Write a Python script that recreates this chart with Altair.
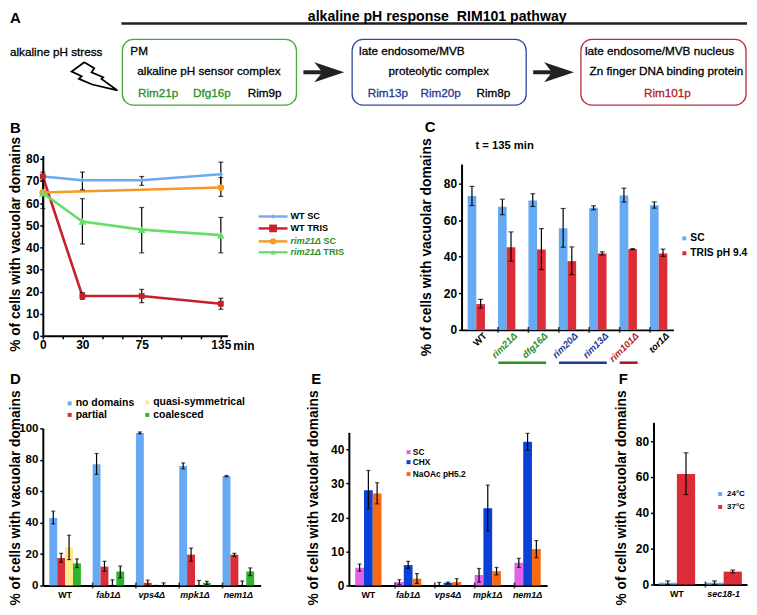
import altair as alt
import pandas as pd

W, H = 741, 599
OX, OY = 8, 8  # page margin
FONT = "Liberation Sans"
BLUE = "#66aaf4"
RED = "#dc2c38"
DELTA = "\u0394"
YTITLE = "% of cells with vacuolar domains"

# ---------- Panel B ----------
b_series = ["WT SC", "WT TRIS", "rim21 SC", "rim21 TRIS"]
b_minutes = {"WT SC": [0, 30, 75, 135], "WT TRIS": [0, 30, 75, 135],
             "rim21 SC": [0, 135], "rim21 TRIS": [0, 30, 75, 135]}
b_values = {"WT SC": [72, 70.3, 70.3, 73], "WT TRIS": [72, 18, 18, 14.5],
            "rim21 SC": [64.8, 67], "rim21 TRIS": [64.5, 51.7, 48, 45.5]}
b_lo = {"WT SC": [72, 66, 68, 67.5], "WT TRIS": [70, 16.5, 15, 12],
        "rim21 SC": [64.8, 63], "rim21 TRIS": [57.5, 41.5, 37.5, 37.5]}
b_hi = {"WT SC": [72, 74, 72, 78.5], "WT TRIS": [74, 19.5, 21, 17],
        "rim21 SC": [64.8, 71.5], "rim21 TRIS": [71.5, 62, 58, 53.5]}
b_colors = ["#6faaf0", "#c5202c", "#f59a26", "#68de68"]
b_shapes = ["diamond", "square", "circle", "triangle-up"]
b_sizes = [22, 60, 40, 28]

# ---------- Panel C ----------
c_cats = ["WT", "rim21" + DELTA, "dfg16" + DELTA, "rim20" + DELTA,
          "rim13" + DELTA, "rim101" + DELTA, "tor1" + DELTA]
c_series = ["SC", "TRIS pH 9.4"]
c_values = [[73.3, 67.3, 70.8, 55.6, 66.8, 73.5, 68.2],
            [14.1, 45.2, 44, 37.6, 41.8, 44.2, 41.8]]
c_lo = [[68, 63, 67.5, 45.2, 65.7, 69.9, 66.6],
        [11.9, 37.5, 33, 30.2, 40.9, 43.9, 40.2]]
c_hi = [[78.5, 71.5, 74.5, 66.4, 67.9, 77.5, 70],
        [16.7, 53.6, 55.4, 45.4, 42.7, 44.5, 44.2]]
c_colors = [BLUE, RED]

# ---------- Panel D ----------
d_cats = ["WT", "fab1" + DELTA, "vps4" + DELTA, "mpk1" + DELTA, "nem1" + DELTA]
d_series = ["no domains", "partial", "quasi-symmetrical", "coalesced"]
d_values = [[43, 77.2, 97, 76, 69.6], [17.5, 12, 1.7, 19.6, 19.6],
            [24.3, 0, 0, 0, 0], [14.1, 8.9, 0, 1.7, 9]]
d_lo = [[39.2, 70.7, 96.6, 74.3, 69.2], [14.8, 9, 0, 15.4, 18.6],
        [16.5, 0, 0, 0, 0], [11.4, 4.9, 0, 0.6, 6.3]]
d_hi = [[47.3, 84, 97.7, 78, 70], [20.5, 15.4, 3.4, 23.8, 20.5],
        [32, 3.6, 0, 3.2, 2.9], [16.9, 12.4, 1.7, 2.7, 11.2]]
d_colors = [BLUE, RED, "#fdea8c", "#30b430"]

# ---------- Panel E ----------
e_cats = d_cats
e_series = ["SC", "CHX", "NaOAc pH5.2"]
e_values = [[5.2, 1, 0, 3.1, 6.7], [28, 6, 0.8, 22.7, 42.2], [27, 2, 1, 4.2, 10.7]]
e_lo = [[4.2, 0.3, 0, 1, 5.3], [22.6, 5, 0.5, 16, 39.7], [24, 0.6, 0, 3.1, 8.2]]
e_hi = [[6.3, 1.7, 0.9, 5, 8], [33.8, 7.1, 1, 29.5, 44.7], [30.2, 3.5, 2, 5.3, 13.2]]
e_colors = ["#e063e8", "#0b40d8", "#f56a12"]

# ---------- Panel F ----------
f_cats = ["WT", "sec18-1"]
f_series = ["24\u00b0C", "37\u00b0C"]
f_values = [[1, 1], [61.7, 7.2]]
f_lo = [[0, 0], [50.2, 6.5]]
f_hi = [[2, 2], [73.5, 8.1]]
f_colors = [BLUE, RED]

ITALIC_NOT_WT = "datum.value == 'WT' ? 'normal' : 'italic'"


def xaxis_offset(y0):
    return -(H - (y0 - OY))


def bar_panel(cats, series, values, lo, hi, colors, x0, x1, y_top_val, y0, ytop,
              yticks, pad_inner, pad_outer, cap, label_size, x_axis_extra=None, y_label_size=12):
    rows = []
    for s, vv, ll, hh in zip(series, values, lo, hi):
        for c, v, l, h in zip(cats, vv, ll, hh):
            rows.append({"cat": c, "series": s, "v": v, "lo": l, "hi": h})
    df = pd.DataFrame(rows)
    xscale = alt.Scale(domain=cats, range=[x0 - OX, x1 - OX],
                       paddingInner=pad_inner, paddingOuter=pad_outer)
    yscale = alt.Scale(domain=[0, y_top_val], range=[y0 - OY, ytop - OY], nice=False, zero=False)
    axis_opts = dict(title=None, orient="bottom", offset=xaxis_offset(y0), ticks=False,
                     domainWidth=2, domainColor="black", labelFont=FONT, labelFontWeight="bold",
                     labelFontSize=label_size, labelColor="black", labelFontStyle=alt.expr(ITALIC_NOT_WT),
                     labelAngle=0, labelPadding=5, grid=False)
    if x_axis_extra:
        axis_opts.update(x_axis_extra)
    x = alt.X("cat:N", scale=xscale, axis=alt.Axis(**axis_opts))
    x_plain = alt.X("cat:N", scale=xscale, axis=None)
    xo = alt.XOffset("series:N", scale=alt.Scale(domain=series))
    y = alt.Y("v:Q", scale=yscale,
              axis=alt.Axis(title=None, orient="left", offset=-(x0 - OX), values=yticks, domainWidth=2,
                            domainColor="black", tickColor="black", tickWidth=1.5, tickSize=3,
                            labelFont=FONT, labelFontWeight="bold", labelFontSize=y_label_size, labelColor="black",
                            labelPadding=2, grid=False))
    color = alt.Color("series:N", scale=alt.Scale(domain=series, range=colors), legend=None)
    base = alt.Chart(df)
    bars = base.mark_bar(clip=False).encode(x=x, xOffset=xo, y=y, color=color)
    err = base.mark_rule(color="black", strokeWidth=1.2).encode(
        x=x_plain, xOffset=xo,
        y=alt.Y("lo:Q", scale=yscale, axis=None), y2="hi:Q")
    cap_lo = base.mark_tick(color="black", size=cap, thickness=1.2, orient="horizontal").encode(
        x=x_plain, xOffset=xo, y=alt.Y("lo:Q", scale=yscale, axis=None))
    cap_hi = base.mark_tick(color="black", size=cap, thickness=1.2, orient="horizontal").encode(
        x=x_plain, xOffset=xo, y=alt.Y("hi:Q", scale=yscale, axis=None))
    bound = alt.Chart(pd.DataFrame({"cat": cats[1:]})).mark_tick(
        color="black", size=6, thickness=1.6, orient="vertical").encode(
        x=alt.X("cat:N", scale=xscale, axis=None, bandPosition=0),
        y=alt.Y(datum=0, scale=yscale, axis=None))
    return [bars, err, cap_lo, cap_hi, bound]


# ---------- line panel B ----------
b_rows = []
for s in b_series:
    for m, v, l, h in zip(b_minutes[s], b_values[s], b_lo[s], b_hi[s]):
        b_rows.append({"series": s, "min": m, "v": v, "lo": l, "hi": h})
b_df = pd.DataFrame(b_rows)
bx = alt.Scale(domain=[0, 140], range=[41 - OX, 226.6 - OX], nice=False)
by = alt.Scale(domain=[0, 81.5], range=[335 - OY, 335 - OY - 81.5 * 2.225], nice=False, zero=False)
bcolor = alt.Color("series:N", scale=alt.Scale(domain=b_series, range=b_colors), legend=None)
bbase = alt.Chart(b_df)
b_x = alt.X("min:Q", scale=bx,
            axis=alt.Axis(title=None, orient="bottom", offset=xaxis_offset(335), grid=False,
                          values=[0, 15, 30, 45, 60, 75, 90, 105, 120, 135],
                          labelExpr="indexof([0,30,75,135], datum.value) >= 0 ? datum.label : ''",
                          domainWidth=2, domainColor="black", tickColor="black", tickWidth=1.5, tickSize=3,
                          labelFont=FONT, labelFontWeight="bold", labelFontSize=12, labelColor="black",
                          labelAngle=0, labelPadding=1, labelOverlap=False, labelFlush=False))
b_x_plain = alt.X("min:Q", scale=bx, axis=None)
b_y = alt.Y("v:Q", scale=by,
            axis=alt.Axis(title=None, orient="left", offset=-(41 - OX), grid=False,
                          values=[0, 10, 20, 30, 40, 50, 60, 70, 80],
                          domainWidth=2, domainColor="black", tickColor="black", tickWidth=1.5, tickSize=3,
                          labelFont=FONT, labelFontWeight="bold", labelFontSize=12, labelColor="black",
                          labelPadding=1))
b_err = bbase.mark_rule(color="black", strokeWidth=1.2).encode(
    x=b_x_plain, y=alt.Y("lo:Q", scale=by, axis=None), y2="hi:Q")
b_cap1 = bbase.mark_tick(color="black", size=5, thickness=1.2, orient="horizontal").encode(
    x=b_x_plain, y=alt.Y("lo:Q", scale=by, axis=None))
b_cap2 = bbase.mark_tick(color="black", size=5, thickness=1.2, orient="horizontal").encode(
    x=b_x_plain, y=alt.Y("hi:Q", scale=by, axis=None))
b_line = bbase.mark_line(strokeWidth=2.6, clip=False).encode(x=b_x, y=b_y, color=bcolor,
                                                             order="min:Q")
b_pts = bbase.mark_point(filled=True, opacity=1).encode(
    x=b_x_plain, y=alt.Y("v:Q", scale=by, axis=None), color=bcolor,
    shape=alt.Shape("series:N", scale=alt.Scale(domain=b_series, range=b_shapes), legend=None),
    size=alt.Size("series:N", scale=alt.Scale(domain=b_series, range=b_sizes), legend=None))
panel_b = [b_line, b_err, b_cap1, b_cap2, b_pts]

# ---------- bar panels ----------
c_extra = dict(labelAngle=-45, labelAlign="right", labelBaseline="middle", labelPadding=4, labelOffset=9,
               labelColor=alt.expr(
                   "indexof(['rim21\u0394','dfg16\u0394'],datum.value)>=0 ? '#2a902a' : "
                   "indexof(['rim20\u0394','rim13\u0394'],datum.value)>=0 ? '#1f3a8c' : "
                   "datum.value=='rim101\u0394' ? '#b01c28' : 'black'"),
               labelOverlap=False)
panel_c = bar_panel(c_cats, c_series, c_values, c_lo, c_hi, c_colors, 462, 675, 90.7, 329, 162.3,
                    [0, 20, 40, 60, 80], 0.43, 0.2, 5, 9.5, c_extra)
panel_d = bar_panel(d_cats, d_series, d_values, d_lo, d_hi, d_colors, 41, 260, 100, 586, 428,
                    [0, 20, 40, 60, 80, 100], 0.27, 0.15, 4, 9, y_label_size=11.5)
panel_e = bar_panel(e_cats, e_series, e_values, e_lo, e_hi, e_colors, 348.7, 548, 45, 586, 432,
                    [0, 10, 20, 30, 40], 0.34, 0.16, 4, 9)
panel_f = bar_panel(f_cats, f_series, f_values, f_lo, f_hi, f_colors, 655, 749, 90.5, 585, 422,
                    [0, 20, 40, 60, 80], 0.22, 0.11, 5, 9)

# ---------- Frame: scheme, titles and legends, placed in page coordinates ----------
fx = alt.Scale(domain=[OX, OX + W], range=[0, W], nice=False, zero=False)
fy = alt.Scale(domain=[OY, OY + H], range=[0, H], nice=False, zero=False)
FX = lambda f="x": alt.X(f + ":Q", scale=fx, axis=None)
FY = lambda f="y": alt.Y(f + ":Q", scale=fy, axis=None)

box_rows = pd.DataFrame({"x": [121, 352, 582], "x2": [296, 527, 748], "y": [37, 37, 37], "y2": [103, 103, 103],
                         "c": ["#4aa63c", "#2c4a9e", "#b5303a"]})
boxes = alt.Chart(box_rows).mark_rect(cornerRadius=11, fillOpacity=0, strokeWidth=1.3).encode(
    x=FX(), x2="x2:Q", y=FY(), y2="y2:Q", stroke=alt.Stroke("c:N", scale=None))

rule_rows = pd.DataFrame({
    "x": [120, 499, 560, 621, 258, 258, 258, 258, 303, 534],
    "x2": [749, 547, 608, 639, 287, 287, 287, 287, 322, 553],
    "y": [21, 362, 362, 362, 215, 227, 240, 251, 70, 70],
    "c": ["#222222", "#2a902a", "#1f3a8c", "#a8131f"] + b_colors + ["#222222", "#222222"],
    "w": [2.5, 2.5, 2.5, 2.5, 2.4, 2.4, 2.4, 2.4, 4, 4]})
rules = alt.Chart(rule_rows).mark_rule().encode(
    x=FX(), x2="x2:Q", y=FY(), stroke=alt.Stroke("c:N", scale=None),
    strokeWidth=alt.StrokeWidth("w:Q", scale=None))

bolt_x = [82.7, 70, 80, 77.3, 90.7, 116, 100, 101.7, 90, 92.7, 82.7]
bolt_y = [60, 69.3, 74, 76.7, 82.3, 88.3, 76.7, 75, 70, 66, 60]
bolt = alt.Chart(pd.DataFrame({"x": bolt_x, "y": bolt_y, "o": range(len(bolt_x))})).mark_line(
    color="black", strokeWidth=1.8, strokeJoin="miter").encode(x=FX(), y=FY(), order="o:Q")

head = alt.Chart(pd.DataFrame({"x": [329, 560], "y": [70, 70]})).mark_point(
    shape="M1,0 L-1,-0.67 L-0.47,0 L-1,0.67 Z", size=900, filled=True, color="#222222", opacity=1
).encode(x=FX(), y=FY())

marker_rows = pd.DataFrame({
    "x": [272.5, 272.5, 272.5, 272.5, 686, 686, 68, 68, 146, 146, 408.7, 408.7, 408.7, 722, 722],
    "y": [215, 227, 240, 251, 237, 252, 403, 414.5, 402, 414.5, 452, 462, 474, 494, 507],
    "s": b_shapes + ["square"] * 11,
    "c": b_colors + c_colors + [d_colors[0], d_colors[1], d_colors[2], d_colors[3]] + e_colors + f_colors,
    "z": b_sizes + [16] * 11})
markers = alt.Chart(marker_rows).mark_point(filled=True, opacity=1).encode(
    x=FX(), y=FY(), shape=alt.Shape("s:N", scale=None, legend=None),
    color=alt.Color("c:N", scale=None, legend=None), size=alt.Size("z:Q", scale=None, legend=None))


def texts(rows, weight="bold", style="normal", align="left", angle=0, medium=False):
    df = pd.DataFrame(rows, columns=["t", "x", "y", "z", "c"])
    mark_opts = dict(font=FONT, fontWeight=weight, fontStyle=style, align=align,
                     baseline="middle", angle=angle)
    enc = dict(x=FX(), y=FY(), text="t:N", size=alt.Size("z:Q", scale=None, legend=None),
               color=alt.Color("c:N", scale=None, legend=None))
    if medium:
        mark_opts["strokeWidth"] = 0.3
        enc["stroke"] = alt.Stroke("c:N", scale=None, legend=None)
    return alt.Chart(df).mark_text(**mark_opts).encode(**enc)


GREEN_T = "#2a902a"
NAVY_T = "#1f3a8c"
RED_T = "#b01c28"
K = "black"
t_bold_left = texts([
    ["A", 8, 15, 15, K], ["B", 8, 126, 15, K], ["C", 425, 125, 15, K],
    ["D", 8, 378, 15, K], ["E", 311, 378, 15, K], ["F", 620, 378, 15, K],
    ["WT SC", 290, 215, 9.2, K], ["WT TRIS", 290, 227, 9.2, K],
    ["SC", 323, 240, 9.2, GREEN_T], ["TRIS", 323, 251, 9.2, GREEN_T],
    ["min", 232.5, 345, 12, K],
    ["t = 135 min", 476, 144, 11.3, K],
    ["SC", 692, 237, 10.3, K], ["TRIS pH 9.4", 692, 252, 10.3, K],
    ["no domains", 74, 403, 10.5, K], ["partial", 74, 414.5, 10.5, K],
    ["quasi-symmetrical", 152, 402, 10.5, K], ["coalesced", 152, 414.5, 10.5, K],
    ["SC", 413, 452, 8.4, K], ["CHX", 413, 462, 8.4, K], ["NaOAc pH5.2", 413, 474, 8.4, K],
    ["24\u00b0C", 729, 494, 8, K], ["37\u00b0C", 729, 507, 8, K],
])
t_italic_left = texts([["rim21" + DELTA, 290, 240, 9.2, GREEN_T], ["rim21" + DELTA, 290, 251, 9.2, GREEN_T]],
                      style="italic")
t_head = texts([["alkaline pH response \u00a0RIM101 pathway", 437.5, 14, 14.2, K]], align="center")
t_plain_left = texts([
    ["alkaline pH stress", 8, 50, 11.8, K], ["PM", 129, 49, 11.8, K],
    ["late endosome/MVB", 359, 49, 11.8, K], ["late endosome/MVB nucleus", 586, 49, 11.8, K]],
    weight="normal", medium=True)
t_plain_center = texts([
    ["alkaline pH sensor complex", 208, 69, 11.8, K], ["proteolytic complex", 439, 69, 11.8, K],
    ["Zn finger DNA binding protein", 668, 69, 11.8, K],
    ["Rim21p", 157, 91, 11.8, GREEN_T], ["Dfg16p", 211, 91, 11.8, GREEN_T], ["Rim9p", 264, 91, 11.8, K],
    ["Rim13p", 388, 91, 11.8, NAVY_T], ["Rim20p", 441, 91, 11.8, NAVY_T], ["Rim8p", 494, 91, 11.8, K],
    ["Rim101p", 669, 91, 11.8, RED_T]], weight="normal", align="center", medium=True)
t_ytitles = texts([
    [YTITLE, 14, 243, 13.8, K], [YTITLE, 427, 246, 14, K],
    [YTITLE, 14, 498, 13.8, K], [YTITLE, 314, 498, 13.8, K], [YTITLE, 623, 498, 13.8, K]],
    align="center", angle=270)

frame = [boxes, rules, bolt, head, markers, t_bold_left, t_italic_left, t_head,
         t_plain_left, t_plain_center, t_ytitles]

chart = alt.layer(*panel_b, *panel_c, *panel_d, *panel_e, *panel_f, *frame).resolve_scale(
    x="independent", y="independent", color="independent", xOffset="independent",
    shape="independent", size="independent", stroke="independent", strokeWidth="independent"
).resolve_axis(x="independent", y="independent").properties(
    width=W, height=H, padding=0, background="white"
).configure_view(stroke=None)

chart.save("out.html", embed_options={"renderer": "svg", "actions": False})
